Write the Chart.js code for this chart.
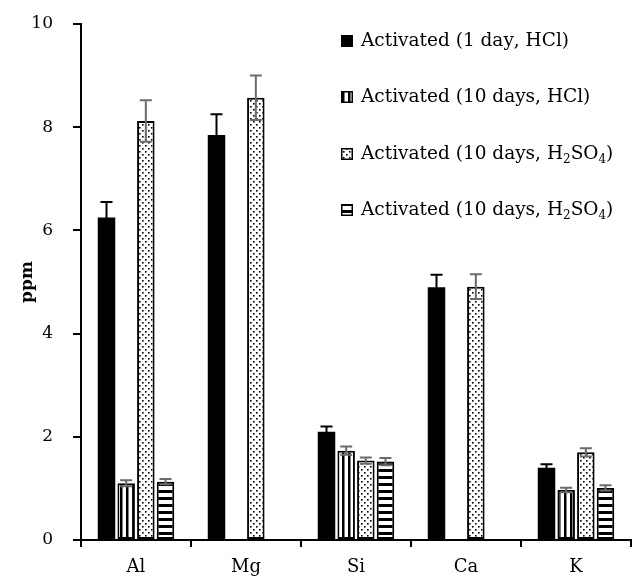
<!DOCTYPE html>
<html>
<head>
<meta charset="utf-8">
<title>ppm by element</title>
<script src="https://cdn.jsdelivr.net/npm/chart.js@4.4.1/dist/chart.umd.min.js"></script>
<style>
  html, body { margin: 0; padding: 0; background: #fff; }
  #wrap { width: 632px; height: 580px; }
</style>
</head>
<body>
<div id="wrap"><canvas id="ppmChart" width="632" height="580"></canvas></div>
<script>
// Elements on the x axis
const categories = ['Al', 'Mg', 'Si', 'Ca', 'K'];

// Legend text, one per series
const seriesLabels = [
    'Activated (1 day, HCl)',
    'Activated (10 days, HCl)',
    'Activated (10 days, H₂SO₄)',
    'Activated (10 days, H₂SO₄)'
];

// Mean values (ppm) and their error bars
const day1HCl = [6.25, 7.85, 2.10, 4.90, 1.40];
const day1HClErr = [0.30, 0.40, 0.10, 0.24, 0.07];
const day10HCl = [1.10, null, 1.73, null, 0.97];
const day10HClErr = [0.06, null, 0.08, null, 0.045];
const day10H2SO4 = [8.12, 8.57, 1.54, 4.91, 1.70];
const day10H2SO4Err = [0.40, 0.43, 0.06, 0.24, 0.08];
const day10H2SO4b = [1.13, null, 1.52, null, 1.01];
const day10H2SO4bErr = [0.05, null, 0.07, null, 0.05];

// Y axis range
const yMin = 0;
const yMax = 10;
const yStep = 2;

const FONT = "'DejaVu Serif', 'Liberation Serif', serif";

// Fill patterns
function makePattern(size, draw) {
    const c = document.createElement('canvas');
    c.width = size[0];
    c.height = size[1];
    const g = c.getContext('2d');
    g.fillStyle = '#fff';
    g.fillRect(0, 0, c.width, c.height);
    g.fillStyle = '#000';
    draw(g);
    return g.createPattern(c, 'repeat');
}
const vStripes = makePattern([6, 6], g => { g.fillRect(0, 0, 2.5, 6); });
const dots = makePattern([6, 6], g => {
    g.fillRect(1, 1, 1.6, 1.6);
    g.fillRect(4, 4, 1.6, 1.6);
});
const hStripes = makePattern([6, 7], g => { g.fillRect(0, 0, 6, 3); });

const fills = ['#000', vStripes, dots, hStripes];
const errColors = ['#000', '#6b6b6b', '#6b6b6b', '#6b6b6b'];
const values = [day1HCl, day10HCl, day10H2SO4, day10H2SO4b];
const errors = [day1HClErr, day10HClErr, day10H2SO4Err, day10H2SO4bErr];

// Error bars drawn over the bars, from the same data
const errorBarPlugin = {
    id: 'errorBars',
    afterDatasetsDraw(chart) {
        const ctx = chart.ctx;
        const y = chart.scales.y;
        chart.data.datasets.forEach((ds, i) => {
            const meta = chart.getDatasetMeta(i);
            meta.data.forEach((bar, j) => {
                const v = ds.data[j];
                const e = errors[i][j];
                if (v == null || e == null) return;
                const top = y.getPixelForValue(v + e);
                const bot = y.getPixelForValue(v - e);
                ctx.save();
                ctx.strokeStyle = errColors[i];
                ctx.lineWidth = 2;
                ctx.beginPath();
                ctx.moveTo(bar.x, top);
                ctx.lineTo(bar.x, bot);
                ctx.moveTo(bar.x - 6, top);
                ctx.lineTo(bar.x + 6, top);
                ctx.moveTo(bar.x - 6, bot);
                ctx.lineTo(bar.x + 6, bot);
                ctx.stroke();
                ctx.restore();
            });
        });
    }
};

// Legend with subscripts, drawn inside the plot area
function drawRich(ctx, text, x, y, size) {
    const subs = '₀₁₂₃₄₅₆₇₈₉';
    for (const ch of text) {
        const k = subs.indexOf(ch);
        if (k >= 0) {
            ctx.font = `${Math.round(size * 0.66)}px ${FONT}`;
            ctx.fillText(String(k), x, y + size * 0.34);
            x += ctx.measureText(String(k)).width;
        } else {
            ctx.font = `${size}px ${FONT}`;
            ctx.fillText(ch, x, y);
            x += ctx.measureText(ch).width;
        }
    }
}
const legendPlugin = {
    id: 'patternLegend',
    afterDraw(chart) {
        const ctx = chart.ctx;
        const x0 = 341;
        const rowY = [41, 97, 154, 210];
        ctx.save();
        ctx.textBaseline = 'middle';
        chart.data.datasets.forEach((ds, i) => {
            const cy = rowY[i];
            ctx.fillStyle = fills[i];
            ctx.fillRect(x0, cy - 6, 12, 12);
            ctx.strokeStyle = '#000';
            ctx.lineWidth = 1.5;
            ctx.strokeRect(x0 + 0.75, cy - 5.25, 10.5, 10.5);
            ctx.fillStyle = '#000';
            drawRich(ctx, ds.label, x0 + 20, cy, 18.5);
        });
        ctx.restore();
    }
};

new Chart(document.getElementById('ppmChart'), {
    type: 'bar',
    data: {
        labels: categories,
        datasets: values.map((vals, i) => ({
            label: seriesLabels[i],
            data: vals,
            backgroundColor: fills[i],
            borderColor: '#000',
            borderWidth: i === 0 ? 0 : 2,
            borderSkipped: false,
            categoryPercentage: 0.715,
            barPercentage: 0.89
        }))
    },
    options: {
        responsive: false,
        animation: false,
        devicePixelRatio: 1,
        layout: { padding: { top: 24, right: 1, left: 0, bottom: 0 } },
        plugins: {
            legend: { display: false },
            tooltip: { enabled: false }
        },
        scales: {
            x: {
                offset: true,
                grid: {
                    offset: true,
                    drawOnChartArea: false,
                    drawTicks: true,
                    tickLength: 7,
                    color: '#000',
                    lineWidth: 2
                },
                border: { color: '#000', width: 2 },
                ticks: {
                    color: '#000',
                    padding: 10,
                    font: { family: FONT, size: 18 }
                },
                afterFit(scale) {
                    scale.height = 40;
                    scale.paddingLeft = 0;
                    scale.paddingRight = 0;
                }
            },
            y: {
                min: yMin,
                max: yMax,
                ticks: {
                    stepSize: yStep,
                    color: '#000',
                    padding: 20,
                    font: { family: FONT, size: 17 }
                },
                grid: {
                    drawOnChartArea: false,
                    drawTicks: true,
                    tickLength: 8,
                    color: '#000',
                    lineWidth: 2
                },
                border: { color: '#000', width: 2 },
                title: {
                    display: true,
                    text: 'ppm',
                    color: '#000',
                    padding: { top: 17, bottom: 0 },
                    font: { family: FONT, size: 17, weight: 'bold' }
                },
                afterFit(scale) {
                    scale.width = 81;
                    scale.paddingTop = 0;
                    scale.paddingBottom = 0;
                }
            }
        }
    },
    plugins: [errorBarPlugin, legendPlugin]
});
</script>
</body>
</html>
